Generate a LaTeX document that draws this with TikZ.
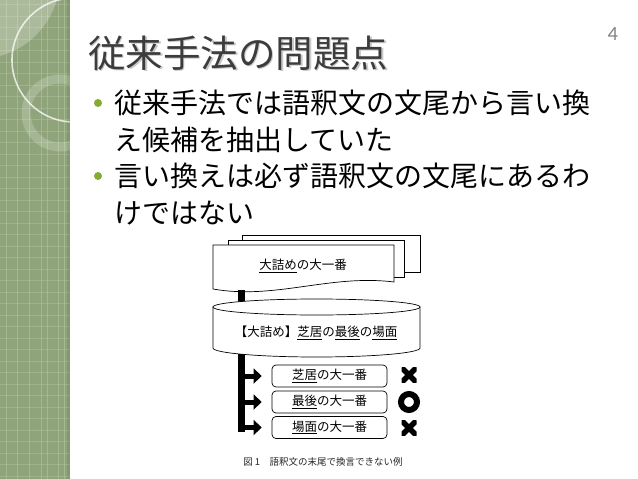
\documentclass[tikz,border=0pt]{standalone}
\usepackage{fontspec}
\setmainfont{Noto Sans CJK JP}
\newfontfamily\numfont{Lato}
\usetikzlibrary{arrows.meta}
\definecolor{stripgreen}{RGB}{143,164,122}
\definecolor{gridgreen}{RGB}{178,196,160}
\definecolor{titlegray}{RGB}{60,60,60}
\definecolor{bulletgreen}{RGB}{132,172,52}
\definecolor{pagegray}{RGB}{128,128,128}
\tikzset{
  gridline/.style={draw=gridgreen,line width=1pt,draw opacity=0.6},
  pagebox/.style={draw=black,fill=white,line width=0.7pt},
  fig/.style={font=\fontsize{12.5}{14}\selectfont},
  rbox/.style={draw=black,fill=white,line width=0.7pt,rounded corners=4pt,minimum width=115pt,minimum height=22pt,inner sep=0pt,font=\fontsize{12.5}{14}\selectfont},
  fatbar/.style={line width=7pt,draw=black},
  fatarrow/.style={line width=5pt,draw=black,-{Triangle[length=8pt,width=15pt]}},
  xmarkbox/.style={rectangle,minimum size=15pt,inner sep=0pt,
    path picture={\draw[line width=5.5pt,black]
      (path picture bounding box.south west) -- (path picture bounding box.north east)
      (path picture bounding box.north west) -- (path picture bounding box.south east);}},
  omark/.style={draw=black,circle,line width=6pt,minimum size=16pt,inner sep=0pt},
  bodytext/.style={anchor=base west,inner sep=0pt,font=\fontsize{28}{30}\selectfont,text=black},
  bullet/.style={fill=bulletgreen}
}
\begin{document}
\begin{tikzpicture}[x=1pt,y=-1pt]
\useasboundingbox (0,0) rectangle (638,479);
\fill[white] (0,0) rectangle (638,479);
% left decorative strip
\fill[stripgreen] (0,0) rectangle (70,479);
\begin{scope}
\clip (0,0) rectangle (70,479);
\foreach \x in {6,17,29,41,47,58,64} \draw[gridline] (\x,0) -- (\x,479);
\foreach \y in {4,16,27,39,50,62,73,85,96,108,119,131,142,154,165,177,188,200,211,223,234,246,257,269,280,292,303,315,326,338,349,361,372,384,395,407,418,430,441,453,464,476} \draw[gridline,draw opacity=0.45] (0,\y) -- (70,\y);
\fill[white,opacity=0.25] (0,0) -- (57,0) .. controls (48,28) and (28,48) .. (0,56) -- cycle;
\draw[white,opacity=0.75,line width=1.6pt] (74,60) circle (62);
\draw[white,opacity=0.2,line width=9pt] (60,113) circle (34);
\fill[black,opacity=0.08] (67,0) rectangle (70,479);
\end{scope}
% page number
\node[anchor=base,inner sep=0pt,text=pagegray,font=\numfont\fontsize{18}{20}\selectfont] (pnum) at (613,40) {4};
% title with shadow
\node[anchor=base west,inner sep=0pt,font=\fontsize{37.5}{40}\selectfont,text=black!35,opacity=0.6] (titleshadow) at (89.5,68.5) {従来手法の問題点};
\node[anchor=base west,inner sep=0pt,font=\fontsize{37.5}{40}\selectfont,text=titlegray] (title) at (88,67) {従来手法の問題点};
% bullets
\fill[bullet] (98,103) circle (4);
\fill[bullet] (98,176) circle (4);
\node[bodytext] (l1) at (114,113) {従来手法では語釈文の文尾から言い換};
\node[bodytext] (l2) at (114,150) {え候補を抽出していた};
\node[bodytext] (l3) at (114,186) {言い換えは必ず語釈文の文尾にあるわ};
\node[bodytext] (l4) at (114,223) {けではない};
% stacked documents
\draw[pagebox] (242,235) rectangle (420,272);
\draw[pagebox] (228,240) rectangle (404,277);
\draw[pagebox] (213,245) -- (394,245) -- (394,282) .. controls (330,274) and (275,300) .. (213,289) -- cycle;
\node[fig] (doc) at (303,266) {\underline{大詰め}の大一番};
% connector bar to cylinder
\coordinate (docbot) at (241,290);
\coordinate (cyltop) at (241,303);
\draw[fatbar] (docbot) -- (cyltop);
% cylinder
\draw[pagebox] (420,307) -- (420,348) arc[start angle=0,end angle=180,x radius=103.5,y radius=9] -- (213,307) -- cycle;
\draw[pagebox] (316.5,307) ellipse [x radius=103.5,y radius=8];
\node[fig] (cyl) at (316,333) {【大詰め】\underline{芝居}の\underline{最後}の\underline{場面}};
% lower bar and arrows
\coordinate (cylbot) at (241,354);
\coordinate (barend) at (241,432);
\draw[fatbar] (cylbot) -- (barend);
\node[rbox] (b1) at (329.5,376) {\underline{芝居}の大一番};
\node[rbox] (b2) at (329.5,402) {\underline{最後}の大一番};
\node[rbox] (b3) at (329.5,427.5) {\underline{場面}の大一番};
\coordinate (a1) at (241,376);
\coordinate (a2) at (241,402);
\coordinate (a3) at (241,427.5);
\draw[fatarrow] (a1) -- ([xshift=-10pt]b1.west);
\draw[fatarrow] (a2) -- ([xshift=-10pt]b2.west);
\draw[fatarrow] (a3) -- ([xshift=-10pt]b3.west);
% marks
\node[xmarkbox] (m1) at (409,375) {};
\node[omark] (m2) at (409,402) {};
\node[xmarkbox] (m3) at (409,428) {};
% caption
\node[inner sep=0pt,font=\fontsize{9.5}{11}\selectfont,text=black!85] (cap) at (323,462) {図 1　語釈文の末尾で換言できない例};
\end{tikzpicture}
\end{document}
